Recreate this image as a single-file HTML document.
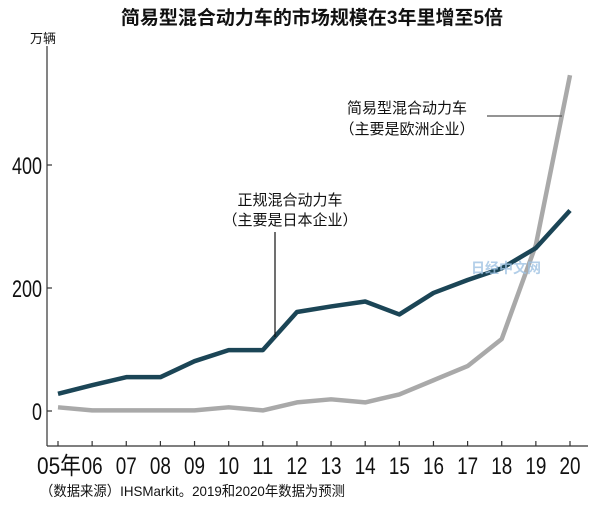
<!DOCTYPE html>
<html><head><meta charset="utf-8"><style>
body{margin:0;background:#fff;}
svg text{font-family:"Liberation Sans","Noto Sans CJK SC",sans-serif;}
</style></head><body>
<svg width="600" height="516" viewBox="0 0 600 516">
<rect width="600" height="516" fill="#fff"/>
<text x="312" y="24" text-anchor="middle" font-size="19" font-weight="bold" fill="#111">简易型混合动力车的市场规模在3年里增至5倍</text>
<text x="30" y="43" font-size="13" fill="#111">万辆</text>
<g id="axes"></g>
<g id="series"></g>
<line x1="275" y1="232" x2="275" y2="337" stroke="#111" stroke-width="1.2"/>
<text x="290" y="205" text-anchor="middle" font-size="15" fill="#111">正规混合动力车</text>
<text x="290" y="225" text-anchor="middle" font-size="15" fill="#111">（主要是日本企业）</text>
<line x1="487" y1="116" x2="562" y2="116" stroke="#555" stroke-width="1.2"/>
<text x="407" y="113" text-anchor="middle" font-size="15" fill="#111">简易型混合动力车</text>
<text x="407" y="134" text-anchor="middle" font-size="15" fill="#111">（主要是欧洲企业）</text>
<text x="506" y="273" text-anchor="middle" font-size="14" font-weight="bold" fill="#9fc3e3" opacity="0.8">日经中文网</text>
<text x="40" y="496" font-size="14" fill="#111" textLength="305" lengthAdjust="spacingAndGlyphs">（数据来源）IHSMarkit。2019和2020年数据为预测</text>
</svg>
<script>
const categories=["05年","06","07","08","09","10","11","12","13","14","15","16","17","18","19","20"];
const regularHybrid=[28,42,55,55,81,99,99,161,170,178,157,192,213,232,265,326];
const mildHybrid=[6,1,1,1,1,6,1,14,19,14,27,50,73,117,270,546];
const yTicks=[0,200,400];
const NS="http://www.w3.org/2000/svg";
const x=i=>58+i*(512/15);
const y=v=>411-v*0.615;
function mk(t,a,p){const e=document.createElementNS(NS,t);for(const k in a)e.setAttribute(k,a[k]);p.appendChild(e);return e;}
const ax=document.getElementById('axes');
let e=mk('line',{x1:47,y1:46,x2:47,y2:446,stroke:'#333','stroke-width':1.2},ax);


e=mk('line',{x1:47,y1:446,x2:588,y2:446,stroke:'#333','stroke-width':1.2},ax);


yTicks.forEach(v=>{
 const t=mk('line',{x1:47,y1:y(v),x2:52,y2:y(v),stroke:'#333','stroke-width':1.2},ax);
 
 
 const l=mk('text',{x:42,y:y(v)+9,'text-anchor':'end','font-size':24,fill:'#111',transform:'',textLength:String(v).length*10,lengthAdjust:'spacingAndGlyphs'},ax);
 l.textContent=v;
 
 
});
categories.forEach((c,i)=>{
 const t=mk('line',{x1:x(i),y1:441,x2:x(i),y2:446,stroke:'#333','stroke-width':1.2},ax);
 
 
 const l=mk('text',{x:i==0?x(i)+1:x(i),y:474,'text-anchor':'middle','font-size':24,fill:'#111',textLength:i==0?44:21,lengthAdjust:'spacingAndGlyphs'},ax);
 l.textContent=c;
 
 
});
const sg=document.getElementById('series');
function line(d,col,name){
 const p=mk('polyline',{points:d.map((v,i)=>x(i)+','+y(v)).join(' '),fill:'none',stroke:col,'stroke-width':4.5,'stroke-linejoin':'round'},sg);
 
 
}
line(mildHybrid,'#a9a9a9','mild-hybrid-line');
line(regularHybrid,'#1b4556','regular-hybrid-line');
</script>
</body></html>
